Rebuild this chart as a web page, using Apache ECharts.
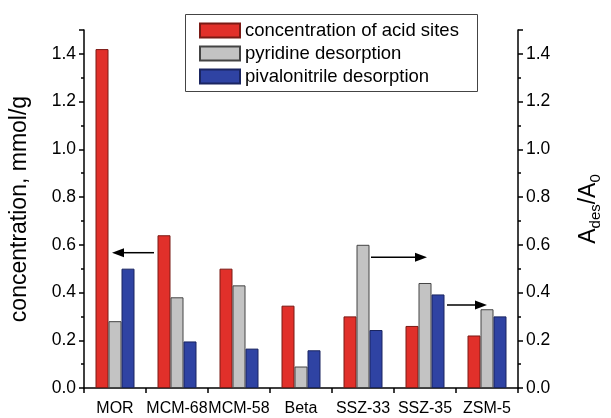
<!DOCTYPE html>
<html>
<head>
<meta charset="utf-8">
<script src="https://cdn.jsdelivr.net/npm/echarts@6/dist/echarts.min.js"></script>
<style>
  html, body { margin: 0; padding: 0; background: #fff; }
  #main { width: 611px; height: 418px; }
</style>
</head>
<body>
<div id="main"></div>
<script>
const categories = ['MOR', 'MCM-68', 'MCM-58', 'Beta', 'SSZ-33', 'SSZ-35', 'ZSM-5']
const acidSites = [1.42, 0.64, 0.50, 0.345, 0.30, 0.26, 0.22]
const pyridine = [0.28, 0.38, 0.43, 0.09, 0.60, 0.44, 0.33]
const pivalonitrile = [0.50, 0.195, 0.165, 0.158, 0.243, 0.392, 0.30]
const seriesNames = ['concentration of acid sites', 'pyridine desorption', 'pivalonitrile desorption']

const font = 'Liberation Sans, Arial, sans-serif'
const myChart = echarts.init(document.getElementById('main'))

// arrow: horizontal line + filled head
const arrow = (x1, x2, y) => {
  const dir = x2 > x1 ? 1 : -1
  const base = x2 - dir * 12
  return {
    type: 'group',
    children: [
      { type: 'line', shape: { x1: x1, y1: y, x2: base, y2: y }, style: { stroke: '#000', lineWidth: 1.5 } },
      { type: 'polygon', shape: { points: [[x2, y], [base, y - 4.5], [base, y + 4.5]] }, style: { fill: '#000' } }
    ]
  }
}

const yAxisBase = {
  type: 'value',
  min: 0,
  max: 1.5,
  interval: 0.2,
  nameLocation: 'middle',
  nameRotate: 90,
  axisLine: { show: true, lineStyle: { color: '#000', width: 1.5 } },
  axisTick: { show: true, length: 5, lineStyle: { color: '#000', width: 1.5 } },
  minorTick: { show: true, splitNumber: 2, length: 3, lineStyle: { color: '#000', width: 1.5 } },
  splitLine: { show: false },
  axisLabel: {
    showMaxLabel: false,
    color: '#000',
    fontFamily: font,
    fontSize: 17.5,
    margin: 8,
    formatter: v => v.toFixed(1)
  }
}

const barStyles = [
  { color: '#e1302a', borderColor: '#7a1a15' },
  { color: '#c3c3c3', borderColor: '#444' },
  { color: '#2f43a3', borderColor: '#1a2560' }
]

const option = {
  animation: false,
  textStyle: { fontFamily: font },
  grid: { left: 75, right: 78, top: 30, bottom: 30, containLabel: false },
  legend: {
    orient: 'vertical',
    left: 194,
    top: 16,
    icon: 'rect',
    itemWidth: 40,
    itemHeight: 14,
    itemGap: 4,
    textStyle: { color: '#000', fontFamily: font, fontSize: 18.5, lineHeight: 19 },
    data: seriesNames
  },
  xAxis: {
    type: 'category',
    data: categories,
    axisLine: { lineStyle: { color: '#000', width: 1.5 } },
    axisTick: { show: true, length: 5, lineStyle: { color: '#000', width: 1.5 } },
    axisLabel: { color: '#000', fontFamily: font, fontSize: 16, margin: 13, interval: 0 }
  },
  yAxis: [
    Object.assign({}, yAxisBase, {
      position: 'left',
      name: 'concentration, mmol/g',
      nameGap: 53,
      nameTextStyle: { color: '#000', fontFamily: font, fontSize: 23 }
    }),
    Object.assign({}, yAxisBase, {
      position: 'right',
      name: '{a|A}{s|des}{a|/A}{s|0}',
      nameGap: 57,
      nameTextStyle: {
        color: '#000',
        fontFamily: font,
        rich: {
          a: { fontSize: 23, lineHeight: 28, fontFamily: font, color: '#000' },
          s: { fontSize: 15, lineHeight: 28, fontFamily: font, color: '#000', padding: [13, 0, 0, 0] }
        }
      }
    })
  ],
  graphic: [
    {
      type: 'rect',
      shape: { x: 185.5, y: 14.5, width: 292, height: 77 },
      style: { fill: 'none', stroke: '#444', lineWidth: 1 },
      z: 10
    },
    arrow(154, 112, 252.7),
    arrow(371, 427, 257.3),
    arrow(447, 487, 305)
  ],
  series: [
    { name: seriesNames[0], type: 'bar', yAxisIndex: 0, barWidth: 13, barGap: '0%', itemStyle: { color: barStyles[0].color, borderColor: barStyles[0].borderColor, borderWidth: 1 }, data: acidSites },
    { name: seriesNames[1], type: 'bar', yAxisIndex: 1, barWidth: 13, barGap: '0%', itemStyle: { color: barStyles[1].color, borderColor: barStyles[1].borderColor, borderWidth: 1 }, data: pyridine },
    { name: seriesNames[2], type: 'bar', yAxisIndex: 1, barWidth: 13, barGap: '0%', itemStyle: { color: barStyles[2].color, borderColor: barStyles[2].borderColor, borderWidth: 1 }, data: pivalonitrile }
  ]
}
myChart.setOption(option)
</script>
</body>
</html>
